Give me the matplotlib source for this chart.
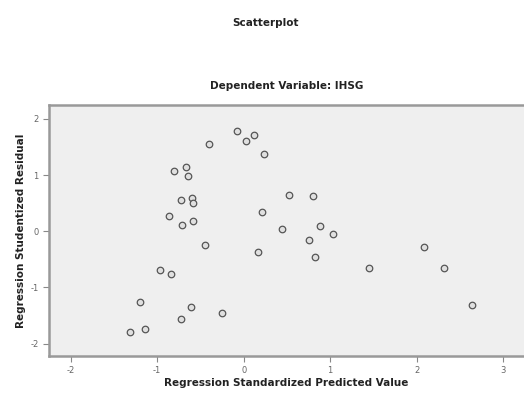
import matplotlib.pyplot as plt

plt.rcParams["axes.unicode_minus"] = False

# Regression standardized predicted value (x) vs studentized residual (y)
pred = [-0.40, -0.08, 0.03, 0.12, 0.24, -0.67, -0.81, -0.64, -0.73, -0.60,
        -0.59, -0.86, -0.71, -0.59, -0.45, 0.52, 0.80, 0.21, 0.44, 0.88,
        1.03, 0.76, 0.17, 0.82, -0.97, -0.84, 1.45, 2.08, 2.31, 2.64,
        -1.20, -0.61, -0.72, -0.25, -1.31, -1.14]
resid = [1.56, 1.78, 1.60, 1.72, 1.37, 1.14, 1.07, 0.99, 0.55, 0.59,
         0.50, 0.28, 0.11, 0.18, -0.25, 0.64, 0.62, 0.34, 0.04, 0.09,
         -0.05, -0.16, -0.37, -0.46, -0.69, -0.76, -0.66, -0.28, -0.66, -1.31,
         -1.26, -1.35, -1.56, -1.46, -1.79, -1.74]
xticks = [-2, -1, 0, 1, 2, 3]
yticks = [-2, -1, 0, 1, 2]

fig = plt.figure(figsize=(5.24, 3.94), dpi=100, facecolor="white")
ax = fig.add_axes([0.0935, 0.0964, 0.9065, 0.6360])
ax.set_facecolor("#efefef")

ax.scatter(pred, resid, s=22, facecolors="#e0e0e0", edgecolors="#555555",
           linewidths=0.9, zorder=3)

ax.set_xlim(-2.25, 3.24)
ax.set_ylim(-2.22, 2.24)
ax.set_xticks(xticks)
ax.set_yticks(yticks)
ax.tick_params(colors="#888888", labelcolor="#666666", labelsize=6,
               length=4, width=0.8)

for side in ["top", "left", "bottom"]:
    ax.spines[side].set_color("#999999")
    ax.spines[side].set_linewidth(1.8)
ax.spines["right"].set_visible(False)

ax.set_xlabel("Regression Standardized Predicted Value", fontsize=7.5,
              fontweight="bold", color="#222222", labelpad=2)
ax.set_ylabel("Regression Studentized Residual", fontsize=7.5,
              fontweight="bold", color="#222222", labelpad=3)
ax.set_title("Dependent Variable: IHSG", fontsize=7.5, fontweight="bold",
             color="#222222", pad=12)
fig.text(0.507, 0.941, "Scatterplot", ha="center", va="center", fontsize=7.5,
         fontweight="bold", color="#222222")

fig.savefig("out.png", dpi=100, facecolor="white")
